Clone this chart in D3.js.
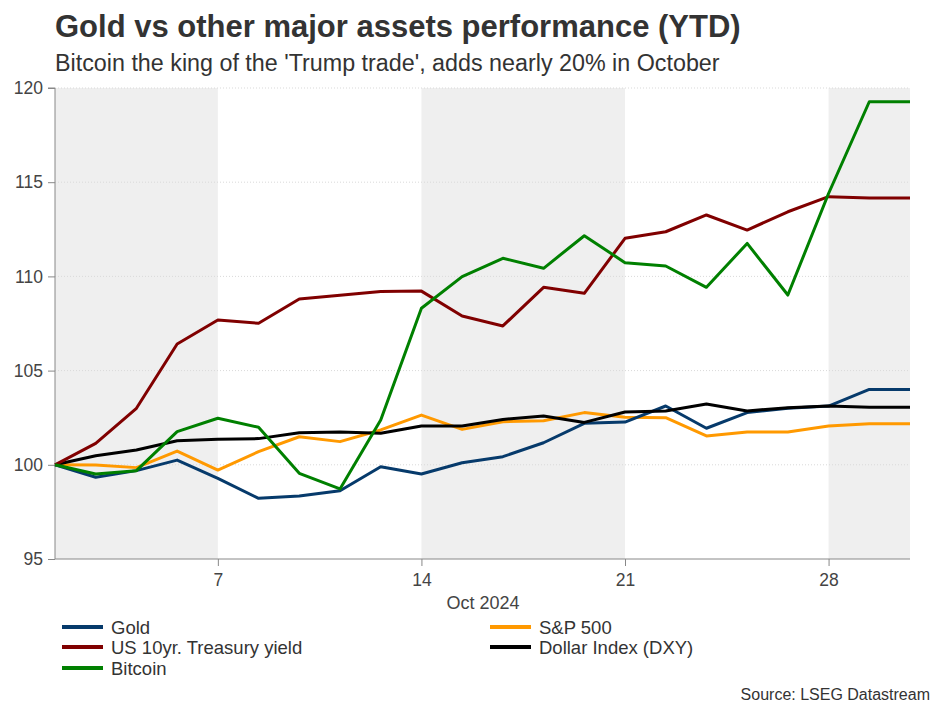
<!DOCTYPE html>
<html><head><meta charset="utf-8">
<script src="https://cdn.jsdelivr.net/npm/d3@7"></script>
<style>
body{margin:0;background:#fff;}
text{font-family:"Liberation Sans",Arial,sans-serif;}
</style></head>
<body><svg id="c" width="941" height="706"></svg>
<script>
const dates = ["2024-10-01","2024-10-02","2024-10-03","2024-10-04","2024-10-07","2024-10-08","2024-10-09","2024-10-10","2024-10-11","2024-10-14","2024-10-15","2024-10-16","2024-10-17","2024-10-18","2024-10-21","2024-10-22","2024-10-23","2024-10-24","2024-10-25","2024-10-28","2024-10-29","2024-10-30"];
const gold     = [100,99.34,99.69,100.25,99.28,98.22,98.34,98.62,99.9,99.51,100.11,100.43,101.17,102.2,102.27,103.12,101.94,102.77,103.0,103.12,104.0,104.0];
const sp500    = [100,99.99,99.85,100.73,99.72,100.70,101.49,101.23,101.85,102.64,101.88,102.29,102.34,102.77,102.52,102.5,101.53,101.74,101.74,102.06,102.18,102.18];
const us10y    = [100,101.14,103.0,106.41,107.69,107.51,108.8,109.0,109.2,109.22,107.9,107.37,109.42,109.1,112.02,112.37,113.26,112.46,113.43,114.23,114.16,114.16];
const dxy      = [100,100.48,100.79,101.28,101.35,101.39,101.7,101.74,101.67,102.06,102.06,102.41,102.59,102.25,102.8,102.86,103.23,102.86,103.03,103.12,103.05,103.05];
const bitcoin  = [100,99.51,99.69,101.76,102.47,101.99,99.55,98.72,102.38,108.31,109.99,110.96,110.43,112.16,110.73,110.55,109.42,111.75,109.01,114.4,119.27,119.27];
const yTicks = [95,100,105,110,115,120];
const xTickIdx = [4,9,14,19];
const xTickLabels = ["7","14","21","28"];
const shadeBands = [[0,4],[9,14],[19,21]];

const series = [
  {name:"Gold", values:gold, color:"#063a6b"},
  {name:"S&P 500", values:sp500, color:"#ff9900"},
  {name:"US 10yr. Treasury yield", values:us10y, color:"#800000"},
  {name:"Dollar Index (DXY)", values:dxy, color:"#000000"},
  {name:"Bitcoin", values:bitcoin, color:"#008000"}
];

const svg = d3.select("#c");
const L=55, R=910, T=88, B=559;
const x = d3.scaleLinear().domain([0, dates.length-1]).range([L,R]);
const y = d3.scaleLinear().domain([95,120]).range([B,T]);

svg.append("text").attr("x",55).attr("y",37).attr("font-size",31).attr("font-weight","bold").attr("fill","#333").text("Gold vs other major assets performance (YTD)");
svg.append("text").attr("x",55).attr("y",71).attr("font-size",23.3).attr("fill","#333").text("Bitcoin the king of the 'Trump trade', adds nearly 20% in October");

svg.append("g").selectAll("rect").data(shadeBands).join("rect")
  .attr("x",d=>x(d[0])).attr("width",d=>x(d[1])-x(d[0]))
  .attr("y",T).attr("height",B-T).attr("fill","#efefef");

svg.append("g").selectAll("line").data(yTicks.filter(t=>t>95)).join("line")
  .attr("x1",L).attr("x2",R).attr("y1",d=>y(d)).attr("y2",d=>y(d))
  .attr("stroke","#d9d9d9").attr("stroke-dasharray","1,2");

const yAxis = svg.append("g").attr("transform",`translate(${L},0)`)
  .call(d3.axisLeft(y).tickValues(yTicks).tickSize(7).tickPadding(5));
const xAxis = svg.append("g").attr("transform",`translate(0,${B})`)
  .call(d3.axisBottom(x).tickValues(xTickIdx).tickFormat((d,i)=>xTickLabels[i]).tickSize(7).tickPadding(8));
[yAxis,xAxis].forEach(a=>{
  a.select(".domain").attr("stroke","#888");
  a.selectAll(".tick line").attr("stroke","#888");
  a.selectAll(".tick text").attr("font-size",17.5).attr("fill","#444").attr("font-family","'Liberation Sans',Arial,sans-serif");
});
yAxis.select(".domain").attr("d",`M-7,${T}H0V${B}`);
xAxis.select(".domain").attr("d",`M${L},0H${R}`);

svg.append("text").attr("x",483).attr("y",609).attr("text-anchor","middle").attr("font-size",18).attr("fill","#444").text("Oct 2024");

const line = d3.line().x((d,i)=>x(i)).y(d=>y(d));
const drawOrder = ["S&P 500","Gold","Dollar Index (DXY)","US 10yr. Treasury yield","Bitcoin"];
drawOrder.forEach(n=>{
  const s = series.find(z=>z.name===n);
  svg.append("path").attr("d",line(s.values)).attr("fill","none")
    .attr("stroke",s.color).attr("stroke-width",3).attr("stroke-linejoin","round");
});

const legendPos = [[62,627],[490,627],[62,647],[490,647],[62,668]];
series.forEach((s,i)=>{
  const [lx,ly]=legendPos[i];
  svg.append("line").attr("x1",lx).attr("x2",lx+41).attr("y1",ly).attr("y2",ly).attr("stroke",s.color).attr("stroke-width",4);
  svg.append("text").attr("x",lx+49).attr("y",ly+7).attr("font-size",18.5).attr("fill","#333").text(s.name);
});

svg.append("text").attr("x",930).attr("y",700).attr("text-anchor","end").attr("font-size",16).attr("fill","#333").text("Source: LSEG Datastream");
</script></body></html>
